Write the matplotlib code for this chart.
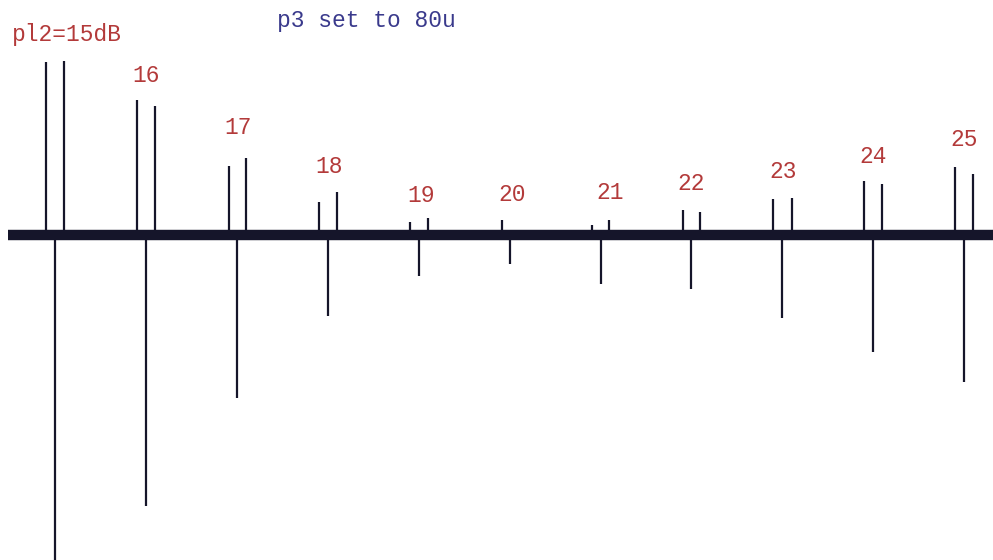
import matplotlib
matplotlib.use('Agg')
import matplotlib.pyplot as plt

# array of spectra: each experiment gives two positive lines and one negative
labels = ['pl2=15dB', '16', '17', '18', '19', '20', '21', '22', '23', '24', '25']
label_x = [67, 146, 238, 329, 421, 512, 610, 691, 783, 873, 964]
label_h = [201, 160, 108, 69, 40, 41, 43, 52, 64, 79, 96]

up_x = [46, 64, 137, 155, 229, 246, 319, 337, 410, 428, 502, 592, 609,
        683, 700, 773, 792, 864, 882, 955, 973]
up_h = [173, 174, 135, 129, 69, 77, 33, 43, 13, 17, 15, 10, 15,
        25, 23, 36, 37, 54, 51, 68, 61]

down_x = [55, 146, 237, 328, 419, 510, 601, 691, 782, 873, 964]
down_h = [-330, -271, -163, -81, -41, -29, -49, -54, -83, -117, -147]

fig = plt.figure(figsize=(9.93, 5.6), dpi=100)
ax = fig.add_axes([0, 0, 1, 1])
ax.set_xlim(0, 993)
ax.set_ylim(-325, 235)
ax.axis('off')

line_col = '#15152a'
# noisy baseline drawn as a thick band
ax.plot([8, 993], [0, 0], color=line_col, lw=7.5, solid_capstyle='butt')
ax.vlines(up_x, 0, up_h, color=line_col, lw=1.6)
ax.vlines(down_x, 0, down_h, color=line_col, lw=1.6)

for lab, x, h in zip(labels, label_x, label_h):
    ax.text(x, h, lab, color='#b33a3a', fontsize=16.5, family='Liberation Mono',
            ha='center', va='center')

ax.text(366, 215, 'p3 set to 80u', color='#3a3a8c', fontsize=16.5,
        family='Liberation Mono', ha='center', va='center')

fig.savefig('out.png', dpi=100)
